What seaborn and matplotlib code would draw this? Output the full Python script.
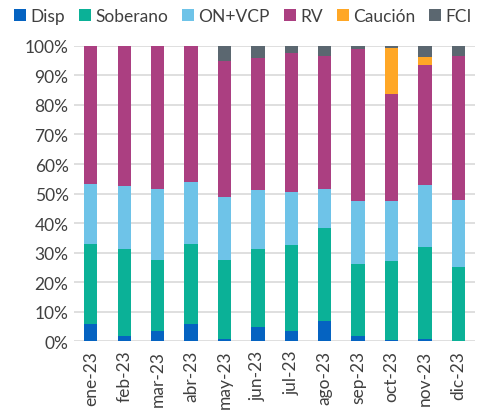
import matplotlib
matplotlib.use("Agg")
import matplotlib.pyplot as plt
import seaborn as sns
import numpy as np
import pandas as pd
from matplotlib.patches import Patch

months = ["ene-23", "feb-23", "mar-23", "abr-23", "may-23", "jun-23",
          "jul-23", "ago-23", "sep-23", "oct-23", "nov-23", "dic-23"]
disp = [6.0, 1.9, 3.6, 6.0, 0.9, 5.0, 3.6, 6.9, 1.7, 0.3, 0.7, 0.2]
soberano = [27.0, 29.3, 24.0, 27.0, 26.7, 26.3, 29.0, 31.5, 24.6, 26.8, 31.3, 25.1]
on_vcp = [20.4, 21.3, 23.8, 21.0, 21.4, 20.0, 17.8, 13.1, 21.1, 20.5, 21.0, 22.6]
rv = [46.6, 47.5, 48.6, 46.0, 45.9, 44.4, 47.3, 45.1, 51.4, 36.2, 40.5, 48.8]
caucion = [0, 0, 0, 0, 0, 0, 0, 0, 0, 15.4, 2.7, 0]
fci = [0, 0, 0, 0, 5.1, 4.3, 2.3, 3.4, 1.2, 0.8, 3.8, 3.3]

series_names = ["Disp", "Soberano", "ON+VCP", "RV", "Caución", "FCI"]
series_vals = [disp, soberano, on_vcp, rv, caucion, fci]
colors = ["#0563C1", "#0BB197", "#6EC3E8", "#AB3F81", "#FFA726", "#5B6770"]

sns.set_theme(style="white")
plt.rcParams["font.family"] = ["Lato", "DejaVu Sans"]
text_color = "#404040"

df = pd.DataFrame({"month": months})
cum = np.zeros(len(months))
cums = []
for v in series_vals:
    cum = cum + np.array(v)
    cums.append(cum.copy())

fig = plt.figure(figsize=(4.78, 4.14), dpi=100)
ax = fig.add_axes([0.155, 0.173, 0.839, 0.714])

for i in range(len(series_names) - 1, -1, -1):
    df["val"] = cums[i]
    sns.barplot(data=df, x="month", y="val", color=colors[i], width=0.4,
                saturation=1, ax=ax, zorder=3, edgecolor="none", linewidth=0)

ax.set_ylim(0, 100)
ax.set_xlim(-0.5, len(months) - 0.5)
ax.set_yticks(np.arange(0, 101, 10))
ax.set_yticklabels([f"{t}%" for t in range(0, 101, 10)])
ax.yaxis.grid(True, color="#DCDCDC", linewidth=1.3, zorder=0)
ax.set_axisbelow(True)
for s in ax.spines.values():
    s.set_visible(False)
ax.set_xlabel("")
ax.set_ylabel("")
ax.tick_params(axis="x", rotation=90, labelsize=12.5, colors=text_color, length=0, pad=6)
ax.tick_params(axis="y", labelsize=12.5, colors=text_color, length=0, pad=4)

handles = [Patch(facecolor=c, edgecolor="none") for c in colors]
fig.legend(handles, series_names, loc="upper left", bbox_to_anchor=(0.003, 1.008),
           ncol=6, frameon=False, fontsize=12.5, handlelength=0.7, handleheight=0.7,
           handletextpad=0.25, columnspacing=0.8, labelcolor=text_color,
           borderaxespad=0.3)

fig.savefig("out.png", dpi=100)
